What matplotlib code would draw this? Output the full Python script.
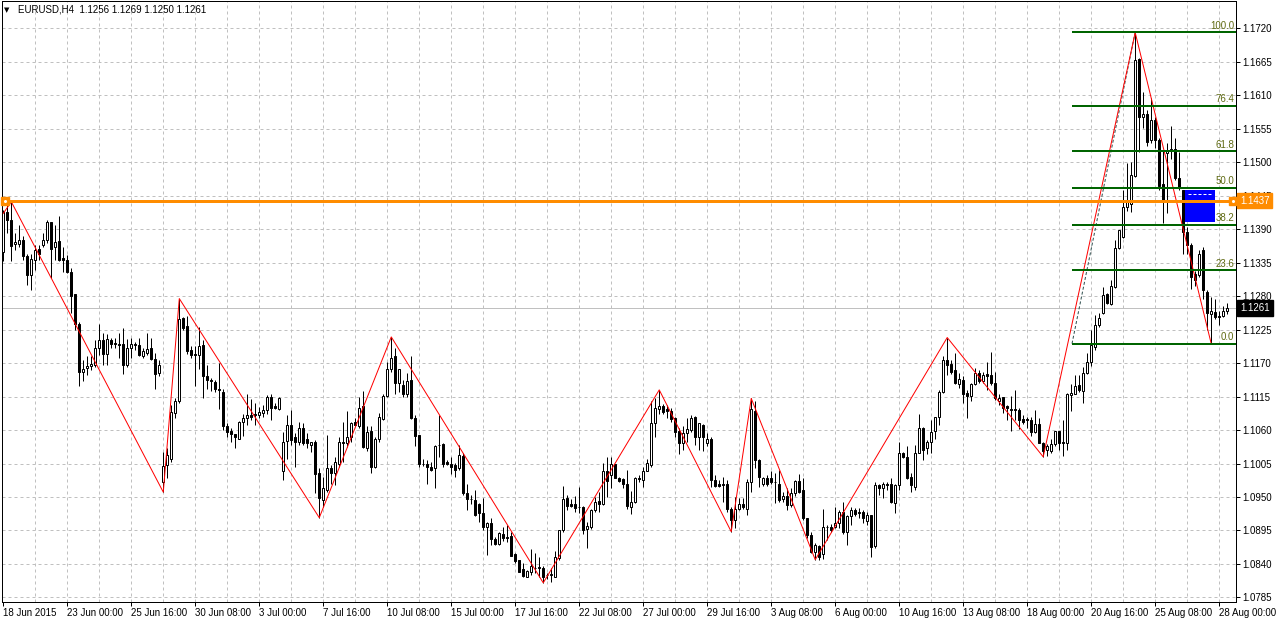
import matplotlib
matplotlib.use("Agg")
import matplotlib.pyplot as plt
import matplotlib.transforms as mtransforms
from matplotlib.patches import Rectangle
import numpy as np

plt.rcParams['font.family'] = ['Liberation Sans', 'DejaVu Sans']

# ---------------- data (EURUSD H4) ----------------
symbol = "EURUSD"
timeframe = "H4"

opens = [
    1.1353, 1.1419, 1.1405, 1.1365, 1.1366, 1.1373, 1.1346, 1.1314, 1.1339, 1.1357,
    1.1364, 1.1373, 1.1401, 1.1360, 1.1371, 1.1342, 1.1339, 1.1320, 1.1283, 1.1234,
    1.1156, 1.1162, 1.1166, 1.1167, 1.1195, 1.1208, 1.1185, 1.1208, 1.1203, 1.1201,
    1.1201, 1.1167, 1.1194, 1.1202, 1.1200, 1.1182, 1.1187, 1.1194, 1.1177, 1.1154,
    1.0975, 1.1003, 1.1013, 1.1088, 1.1107, 1.1244, 1.1231, 1.1191, 1.1185, 1.1184,
    1.1200, 1.1149, 1.1142, 1.1139, 1.1128, 1.1122, 1.1067, 1.1059, 1.1053, 1.1046,
    1.1073, 1.1080, 1.1085, 1.1086, 1.1085, 1.1088, 1.1093, 1.1115, 1.1100, 1.1095,
    1.0992, 1.1042, 1.1068, 1.1049, 1.1041, 1.1064, 1.1046, 1.1036, 1.1041, 1.0989,
    1.0945, 1.0962, 1.0997, 1.0989, 1.1005, 1.1040, 1.1038, 1.1049, 1.1073, 1.1067,
    1.1099, 1.1030, 1.1059, 1.1000, 1.1045, 1.1078, 1.1116, 1.1161, 1.1182, 1.1138,
    1.1134, 1.1120, 1.1142, 1.1079, 1.1052, 1.1005, 1.1004, 1.0999, 1.0997, 1.1035,
    1.1037, 1.1007, 1.1005, 1.1003, 1.0997, 1.1017, 1.0956, 1.0947, 1.0945, 1.0938,
    1.0924, 1.0901, 1.0908, 1.0881, 1.0873, 1.0889, 1.0885, 1.0886, 1.0856, 1.0846,
    1.0831, 1.0819, 1.0827, 1.0834, 1.0835, 1.0834, 1.0822, 1.0822, 1.0819, 1.0849,
    1.0895, 1.0949, 1.0938, 1.0938, 1.0933, 1.0933, 1.0897, 1.0901, 1.0928, 1.0944,
    1.0938, 1.0993, 1.0986, 1.1004, 1.0982, 1.0979, 1.0972, 1.0934, 1.0941, 1.0982,
    1.0978, 1.0993, 1.1003, 1.1071, 1.1094, 1.1099, 1.1094, 1.1092, 1.1079, 1.1059,
    1.1038, 1.1055, 1.1060, 1.1081, 1.1049, 1.1068, 1.1038, 1.1046, 1.0978, 1.0971,
    1.0972, 1.0971, 1.0930, 1.0913, 1.0930, 1.0938, 1.0931, 1.0974, 1.1092, 1.1010,
    1.0971, 1.0981, 1.0982, 1.0975, 1.0972, 1.0946, 1.0952, 1.0937, 1.0957, 1.0977,
    1.0961, 1.0915, 1.0888, 1.0859, 1.0870, 1.0856, 1.0900, 1.0901, 1.0900, 1.0907,
    1.0926, 1.0892, 1.0918, 1.0928, 1.0926, 1.0926, 1.0911, 1.0920, 1.0869, 1.0970,
    1.0964, 1.0971, 1.0971, 1.0940, 1.0970, 1.1023, 1.1016, 1.0983, 1.0967, 1.1022,
    1.1064, 1.1030, 1.1040, 1.1059, 1.1081, 1.1122, 1.1175, 1.1169, 1.1159, 1.1136,
    1.1143, 1.1121, 1.1116, 1.1136, 1.1153, 1.1140, 1.1152, 1.1151, 1.1138, 1.1107,
    1.1114, 1.1099, 1.1095, 1.1095, 1.1093, 1.1078, 1.1078, 1.1077, 1.1057, 1.1070,
    1.1039, 1.1027, 1.1025, 1.1037, 1.1058, 1.1040, 1.1038, 1.1117, 1.1120, 1.1134,
    1.1124, 1.1154, 1.1172, 1.1197, 1.1232, 1.1252, 1.1284, 1.1267, 1.1295, 1.1359,
    1.1377, 1.1427, 1.1432, 1.1477, 1.1670, 1.1574, 1.1579, 1.1536, 1.1569, 1.1536,
    1.1464, 1.1515, 1.1518, 1.1521, 1.1474, 1.1454, 1.1385, 1.1364, 1.1316, 1.1315,
    1.1356, 1.1287, 1.1251, 1.1254, 1.1248, 1.1247, 1.1256,
]

highs = [
    1.1422, 1.1430, 1.1435, 1.1383, 1.1397, 1.1378, 1.1350, 1.1350, 1.1364, 1.1364,
    1.1383, 1.1405, 1.1402, 1.1397, 1.1411, 1.1361, 1.1348, 1.1326, 1.1283, 1.1238,
    1.1175, 1.1181, 1.1181, 1.1208, 1.1234, 1.1220, 1.1218, 1.1212, 1.1211, 1.1220,
    1.1227, 1.1209, 1.1212, 1.1205, 1.1211, 1.1194, 1.1219, 1.1211, 1.1186, 1.1175,
    1.1024, 1.1030, 1.1101, 1.1112, 1.1276, 1.1246, 1.1248, 1.1198, 1.1198, 1.1230,
    1.1208, 1.1167, 1.1145, 1.1142, 1.1170, 1.1127, 1.1071, 1.1063, 1.1054, 1.1075,
    1.1087, 1.1120, 1.1111, 1.1104, 1.1098, 1.1101, 1.1118, 1.1119, 1.1104, 1.1115,
    1.1057, 1.1085, 1.1093, 1.1055, 1.1073, 1.1071, 1.1055, 1.1041, 1.1044, 1.0997,
    1.0983, 1.1052, 1.1003, 1.1016, 1.1049, 1.1074, 1.1092, 1.1074, 1.1079, 1.1115,
    1.1124, 1.1066, 1.1066, 1.1048, 1.1088, 1.1120, 1.1172, 1.1213, 1.1194, 1.1161,
    1.1142, 1.1153, 1.1181, 1.1085, 1.1052, 1.1012, 1.1010, 1.1008, 1.1035, 1.1085,
    1.1038, 1.1010, 1.1016, 1.1006, 1.1035, 1.1022, 1.0972, 1.0953, 1.0961, 1.0940,
    1.0948, 1.0909, 1.0915, 1.0885, 1.0893, 1.0901, 1.0904, 1.0893, 1.0858, 1.0846,
    1.0842, 1.0830, 1.0864, 1.0858, 1.0852, 1.0837, 1.0825, 1.0833, 1.0862, 1.0896,
    1.0968, 1.0953, 1.0947, 1.0952, 1.0966, 1.0935, 1.0909, 1.0931, 1.0950, 1.0959,
    1.1006, 1.1016, 1.1015, 1.1005, 1.0983, 1.0981, 1.0994, 1.0960, 1.0983, 1.0986,
    1.0999, 1.1013, 1.1107, 1.1112, 1.1126, 1.1103, 1.1101, 1.1096, 1.1082, 1.1063,
    1.1066, 1.1079, 1.1085, 1.1083, 1.1071, 1.1070, 1.1055, 1.1049, 1.0986, 1.0978,
    1.0983, 1.0978, 1.0934, 1.0950, 1.0948, 1.0948, 1.0979, 1.1112, 1.1107, 1.1012,
    1.0983, 1.0986, 1.0992, 1.0990, 1.0995, 1.0959, 1.0964, 1.0964, 1.0978, 1.0988,
    1.0981, 1.0915, 1.0893, 1.0874, 1.0871, 1.0930, 1.0904, 1.0906, 1.0934, 1.0929,
    1.0942, 1.0921, 1.0934, 1.0932, 1.0932, 1.0929, 1.0926, 1.0920, 1.0975, 1.0971,
    1.0975, 1.0975, 1.0981, 1.0972, 1.1041, 1.1024, 1.1033, 1.0990, 1.1036, 1.1087,
    1.1065, 1.1044, 1.1077, 1.1082, 1.1126, 1.1181, 1.1212, 1.1175, 1.1187, 1.1153,
    1.1148, 1.1125, 1.1137, 1.1162, 1.1159, 1.1156, 1.1171, 1.1189, 1.1156, 1.1120,
    1.1115, 1.1101, 1.1116, 1.1126, 1.1096, 1.1085, 1.1082, 1.1082, 1.1093, 1.1079,
    1.1041, 1.1037, 1.1045, 1.1059, 1.1059, 1.1076, 1.1121, 1.1136, 1.1151, 1.1151,
    1.1164, 1.1186, 1.1225, 1.1249, 1.1252, 1.1295, 1.1285, 1.1307, 1.1372, 1.1389,
    1.1454, 1.1498, 1.1500, 1.1713, 1.1671, 1.1616, 1.1586, 1.1605, 1.1575, 1.1539,
    1.1519, 1.1531, 1.1559, 1.1539, 1.1517, 1.1455, 1.1394, 1.1367, 1.1322, 1.1356,
    1.1361, 1.1290, 1.1279, 1.1276, 1.1255, 1.1263, 1.1269,
]

lows = [
    1.1337, 1.1384, 1.1338, 1.1356, 1.1361, 1.1339, 1.1298, 1.1290, 1.1323, 1.1339,
    1.1361, 1.1367, 1.1309, 1.1339, 1.1337, 1.1320, 1.1318, 1.1253, 1.1224, 1.1133,
    1.1141, 1.1150, 1.1158, 1.1164, 1.1183, 1.1167, 1.1167, 1.1194, 1.1194, 1.1178,
    1.1152, 1.1163, 1.1178, 1.1192, 1.1181, 1.1178, 1.1183, 1.1175, 1.1127, 1.1148,
    1.0958, 1.0981, 1.1008, 1.1079, 1.1105, 1.1224, 1.1185, 1.1179, 1.1133, 1.1161,
    1.1112, 1.1128, 1.1124, 1.1123, 1.1094, 1.1060, 1.1049, 1.1041, 1.1030, 1.1045,
    1.1051, 1.1068, 1.1077, 1.1068, 1.1080, 1.1082, 1.1087, 1.1076, 1.1094, 1.1093,
    1.0978, 1.1013, 1.1035, 1.1000, 1.1035, 1.1036, 1.1030, 1.1024, 1.0957, 1.0916,
    1.0934, 1.0959, 1.0971, 1.0970, 1.1000, 1.1008, 1.1032, 1.1041, 1.1066, 1.1064,
    1.1030, 1.1025, 1.0990, 1.0997, 1.1041, 1.1077, 1.1115, 1.1156, 1.1119, 1.1123,
    1.1115, 1.1115, 1.1078, 1.1034, 1.0999, 1.1001, 1.0971, 1.0992, 1.0964, 1.1016,
    1.0999, 1.1002, 1.0988, 1.0983, 1.0994, 1.0953, 1.0928, 1.0938, 1.0918, 1.0909,
    1.0895, 1.0854, 1.0871, 1.0871, 1.0871, 1.0878, 1.0876, 1.0853, 1.0841, 1.0826,
    1.0819, 1.0819, 1.0822, 1.0825, 1.0819, 1.0809, 1.0815, 1.0811, 1.0818, 1.0846,
    1.0893, 1.0928, 1.0934, 1.0926, 1.0923, 1.0889, 1.0867, 1.0898, 1.0926, 1.0926,
    1.0937, 1.0950, 1.0964, 1.0981, 1.0975, 1.0964, 1.0930, 1.0922, 1.0940, 1.0974,
    1.0967, 1.0992, 1.1000, 1.1049, 1.1087, 1.1087, 1.1079, 1.1074, 1.1049, 1.1021,
    1.1027, 1.1041, 1.1057, 1.1035, 1.1027, 1.1026, 1.1033, 1.0967, 1.0967, 1.0967,
    1.0942, 1.0926, 1.0893, 1.0899, 1.0929, 1.0931, 1.0920, 1.0959, 1.0997, 1.0966,
    1.0968, 1.0968, 1.0972, 1.0940, 1.0942, 1.0942, 1.0929, 1.0934, 1.0951, 1.0956,
    1.0913, 1.0882, 1.0858, 1.0847, 1.0847, 1.0848, 1.0880, 1.0893, 1.0899, 1.0899,
    1.0890, 1.0871, 1.0904, 1.0918, 1.0915, 1.0907, 1.0904, 1.0852, 1.0866, 1.0953,
    1.0948, 1.0962, 1.0940, 1.0923, 1.0962, 1.1014, 1.0979, 1.0959, 1.0962, 1.1022,
    1.1010, 1.1021, 1.1022, 1.1045, 1.1068, 1.1121, 1.1151, 1.1152, 1.1136, 1.1129,
    1.1105, 1.1079, 1.1108, 1.1134, 1.1137, 1.1137, 1.1126, 1.1134, 1.1110, 1.1101,
    1.1088, 1.1077, 1.1059, 1.1077, 1.1061, 1.1070, 1.1063, 1.1050, 1.1055, 1.1038,
    1.1016, 1.1018, 1.1022, 1.1033, 1.1027, 1.1018, 1.1027, 1.1092, 1.1119, 1.1123,
    1.1105, 1.1152, 1.1165, 1.1192, 1.1230, 1.1251, 1.1267, 1.1265, 1.1293, 1.1357,
    1.1375, 1.1420, 1.1419, 1.1476, 1.1517, 1.1556, 1.1526, 1.1531, 1.1523, 1.1454,
    1.1400, 1.1416, 1.1505, 1.1471, 1.1455, 1.1350, 1.1350, 1.1291, 1.1296, 1.1312,
    1.1276, 1.1224, 1.1202, 1.1243, 1.1232, 1.1246, 1.1250,
]

closes = [
    1.1419, 1.1405, 1.1363, 1.1369, 1.1373, 1.1346, 1.1314, 1.1341, 1.1356, 1.1349,
    1.1373, 1.1402, 1.1357, 1.1369, 1.1339, 1.1339, 1.1320, 1.1281, 1.1234, 1.1156,
    1.1161, 1.1166, 1.1168, 1.1194, 1.1208, 1.1185, 1.1209, 1.1202, 1.1201, 1.1199,
    1.1167, 1.1194, 1.1202, 1.1199, 1.1183, 1.1190, 1.1193, 1.1177, 1.1152, 1.1167,
    1.1001, 1.1019, 1.1090, 1.1108, 1.1243, 1.1227, 1.1190, 1.1183, 1.1183, 1.1198,
    1.1148, 1.1143, 1.1140, 1.1127, 1.1125, 1.1067, 1.1056, 1.1053, 1.1048, 1.1073,
    1.1080, 1.1085, 1.1082, 1.1085, 1.1089, 1.1093, 1.1115, 1.1097, 1.1096, 1.1112,
    1.1041, 1.1068, 1.1044, 1.1041, 1.1064, 1.1038, 1.1038, 1.1040, 1.0988, 1.0948,
    1.0964, 1.0997, 1.0989, 1.1007, 1.1041, 1.1039, 1.1049, 1.1072, 1.1068, 1.1097,
    1.1032, 1.1056, 1.0999, 1.1045, 1.1082, 1.1116, 1.1161, 1.1179, 1.1137, 1.1160,
    1.1120, 1.1141, 1.1079, 1.1050, 1.1004, 1.1004, 1.0999, 1.0995, 1.1034, 1.1035,
    1.1005, 1.1005, 1.0999, 1.0995, 1.1019, 1.0956, 1.0946, 1.0947, 1.0920, 1.0924,
    1.0901, 1.0907, 1.0881, 1.0873, 1.0891, 1.0882, 1.0882, 1.0853, 1.0845, 1.0827,
    1.0820, 1.0829, 1.0837, 1.0834, 1.0833, 1.0819, 1.0822, 1.0824, 1.0851, 1.0896,
    1.0947, 1.0935, 1.0935, 1.0932, 1.0933, 1.0896, 1.0902, 1.0928, 1.0942, 1.0938,
    1.0993, 1.0977, 1.1005, 1.0982, 1.0977, 1.0972, 1.0935, 1.0941, 1.0981, 1.0979,
    1.0993, 1.1006, 1.1071, 1.1096, 1.1099, 1.1090, 1.1092, 1.1078, 1.1057, 1.1039,
    1.1055, 1.1061, 1.1079, 1.1049, 1.1071, 1.1048, 1.1046, 1.0978, 1.0968, 1.0968,
    1.0970, 1.0930, 1.0913, 1.0930, 1.0938, 1.0933, 1.0974, 1.1094, 1.1011, 1.0983,
    1.0981, 1.0971, 1.0974, 1.0975, 1.0945, 1.0952, 1.0937, 1.0956, 1.0977, 1.0959,
    1.0915, 1.0888, 1.0860, 1.0871, 1.0852, 1.0901, 1.0900, 1.0896, 1.0908, 1.0926,
    1.0892, 1.0918, 1.0929, 1.0922, 1.0923, 1.0915, 1.0920, 1.0868, 1.0970, 1.0964,
    1.0971, 1.0970, 1.0941, 1.0970, 1.1022, 1.1015, 1.0981, 1.0969, 1.1022, 1.1064,
    1.1028, 1.1041, 1.1056, 1.1081, 1.1123, 1.1175, 1.1167, 1.1156, 1.1137, 1.1144,
    1.1119, 1.1116, 1.1135, 1.1153, 1.1140, 1.1151, 1.1148, 1.1137, 1.1112, 1.1112,
    1.1096, 1.1096, 1.1093, 1.1093, 1.1077, 1.1074, 1.1077, 1.1056, 1.1070, 1.1039,
    1.1026, 1.1034, 1.1037, 1.1058, 1.1039, 1.1039, 1.1119, 1.1121, 1.1133, 1.1126,
    1.1154, 1.1171, 1.1200, 1.1232, 1.1244, 1.1282, 1.1268, 1.1296, 1.1359, 1.1388,
    1.1426, 1.1438, 1.1479, 1.1668, 1.1574, 1.1579, 1.1534, 1.1569, 1.1536, 1.1461,
    1.1435, 1.1518, 1.1521, 1.1474, 1.1457, 1.1385, 1.1364, 1.1312, 1.1306, 1.1350,
    1.1290, 1.1252, 1.1255, 1.1246, 1.1245, 1.1256, 1.1261,
]

# ZigZag vertices (bar index, price)
zigzag_bar = [0, 2, 40, 44, 79, 97, 135, 164, 182, 187, 203, 236, 260, 283, 302]
zigzag_price = [1.1416, 1.1435, 1.0958, 1.1276, 1.0916, 1.1213, 1.0809, 1.1126,
                1.0893, 1.1112, 1.0847, 1.1212, 1.1016, 1.1713, 1.1202]

# Fibonacci retracement
fibo_bar = [267.2, 283]
fibo_price = [1.1202, 1.1714]
fibo_levels = [0.0, 23.6, 38.2, 50.0, 61.8, 76.4, 100.0]

# horizontal line and rectangle objects
hline_price = 1.1437
rect_bars = [295.2, 302.9]
rect_prices = [1.1401, 1.1454]
rect_inner_line = 1.1447

# axis labels
y_tick_labels = ['1.0785', '1.0840', '1.0895', '1.0950', '1.1005', '1.1060',
                 '1.1115', '1.1170', '1.1225', '1.1280', '1.1335', '1.1390',
                 '1.1445', '1.1500', '1.1555', '1.1610', '1.1665', '1.1720']
x_tick_bars = [0, 16, 32, 48, 64, 80, 96, 112, 128, 144, 160, 176, 192, 208,
               224, 240, 256, 272, 288, 304]
x_tick_labels = ['18 Jun 2015', '23 Jun 00:00', '25 Jun 16:00', '30 Jun 08:00',
                 '3 Jul 00:00', '7 Jul 16:00', '10 Jul 08:00', '15 Jul 00:00',
                 '17 Jul 16:00', '22 Jul 08:00', '27 Jul 00:00', '29 Jul 16:00',
                 '3 Aug 08:00', '6 Aug 00:00', '10 Aug 16:00', '13 Aug 08:00',
                 '18 Aug 00:00', '20 Aug 16:00', '25 Aug 08:00', '28 Aug 00:00']

# ---------------- figure ----------------
W, H = 1276, 619
PX = 0.72  # one pixel in points at 100 dpi
FS = 7

fig = plt.figure(figsize=(W / 100, H / 100), dpi=100, facecolor='white')
ax = fig.add_axes([1.5 / W, (H - 602) / H, (1236 - 1.5) / W, (602 - 1) / H])
ax.set_facecolor('white')

o = np.array(opens)
h = np.array(highs)
l = np.array(lows)
c = np.array(closes)
h = np.maximum(h, np.maximum(o, c))
l = np.minimum(l, np.minimum(o, c))
x = np.arange(len(c))

ax.set_xlim(-0.45, 308.2)
ax.set_ylim(1.07775, 1.17649)

# grid
grid_kw = dict(color='#c0c0c0', lw=PX, ls=(0, (3, 3)), zorder=1)
for gx in range(8, 309, 8):
    ax.axvline(gx, **grid_kw)
y_ticks = [float(s) for s in y_tick_labels]
for gy in y_ticks:
    ax.axhline(gy, **grid_kw)

# bid line
ax.axhline(c[-1], color='#c0c0c0', lw=PX, zorder=1.2)

# rectangle object (background)
ax.add_patch(Rectangle((rect_bars[0], rect_prices[0]), rect_bars[1] - rect_bars[0],
                       rect_prices[1] - rect_prices[0], facecolor='#0000ff',
                       edgecolor='none', zorder=1.5))
ax.plot([rect_bars[0] + 1, rect_bars[1] - 0.4], [rect_inner_line] * 2, color='white',
        lw=PX, ls=(0, (3, 2)), zorder=1.6)

# candles
ax.vlines(x, l, h, color='black', lw=PX, zorder=3)
bull = c >= o
ax.bar(x[bull], (c - o)[bull], bottom=o[bull], width=0.5, color='white',
       edgecolor='black', linewidth=PX, zorder=3.2)
ax.bar(x[~bull], (o - c)[~bull], bottom=c[~bull], width=0.5, color='black',
       edgecolor='black', linewidth=PX, zorder=3.2)

# fibonacci
ax.plot(fibo_bar, fibo_price, color='#2f4f4f', lw=PX, ls=(0, (3, 2)), zorder=3.8)
f_lo, f_hi = min(fibo_price), max(fibo_price)
xr = ax.get_xlim()[1]
for lev in fibo_levels:
    p = f_lo + (f_hi - f_lo) * lev / 100.0
    ax.plot([fibo_bar[0], xr], [p, p], color='#006400', lw=2 * PX, zorder=4.5,
            solid_capstyle='butt')
    ax.annotate(f"{lev:.1f}", xy=(xr - 0.5, p), xytext=(0, 1), textcoords='offset points',
                ha='right', va='bottom', fontsize=FS, color='#5f6a12', zorder=4.6)

# zigzag
ax.plot(zigzag_bar, zigzag_price, color='#ff0000', lw=PX, zorder=4)

# horizontal orange line
ax.axhline(hline_price, color='#ff8c00', lw=3 * PX, zorder=6)
for mx in (0.55, 307.4):
    ax.plot([mx], [hline_price], marker='s', ms=5.5, color='#ff8c00', zorder=6.1,
            clip_on=False)
    ax.plot([mx], [hline_price], marker='o', ms=1.2, color='white', zorder=6.2,
            clip_on=False)

# axes styling
for sp in ax.spines.values():
    sp.set_color('black')
    sp.set_linewidth(PX)
ax.yaxis.tick_right()
ax.set_yticks(y_ticks)
ax.set_yticklabels(y_tick_labels)
ax.tick_params(axis='y', length=3, width=PX, pad=1.5, labelsize=FS, colors='black')
ax.set_xticks(x_tick_bars)
ax.set_xticklabels(x_tick_labels, ha='left')
ax.tick_params(axis='x', length=3, width=PX, pad=1.5, labelsize=FS, colors='black')

# price labels on the axis
bt = mtransforms.blended_transform_factory(ax.transAxes, ax.transData)
xlab = 1.0 + 4 / (1236 - 1.5)
ax.text(xlab, hline_price, f"{hline_price:.4f}", transform=bt, ha='left', va='center',
        fontsize=FS, color='white', zorder=10,
        bbox=dict(boxstyle='square,pad=0.3', fc='#ff8c00', ec='#ff8c00'))
ax.text(xlab, c[-1], f"{c[-1]:.4f}", transform=bt, ha='left', va='center',
        fontsize=FS, color='white', zorder=10,
        bbox=dict(boxstyle='square,pad=0.3', fc='black', ec='black'))

# title
fig.text(4 / W, 1 - 10 / H, '\u25bc', fontsize=5, va='center', ha='left',
         family=['DejaVu Sans'])
fig.text(18 / W, 1 - 10 / H,
         f"{symbol},{timeframe}  {o[-1]:.4f} {h[-1]:.4f} {l[-1]:.4f} {c[-1]:.4f}",
         fontsize=FS, va='center', ha='left', color='black')

fig.savefig('out.png', dpi=100, facecolor='white')
